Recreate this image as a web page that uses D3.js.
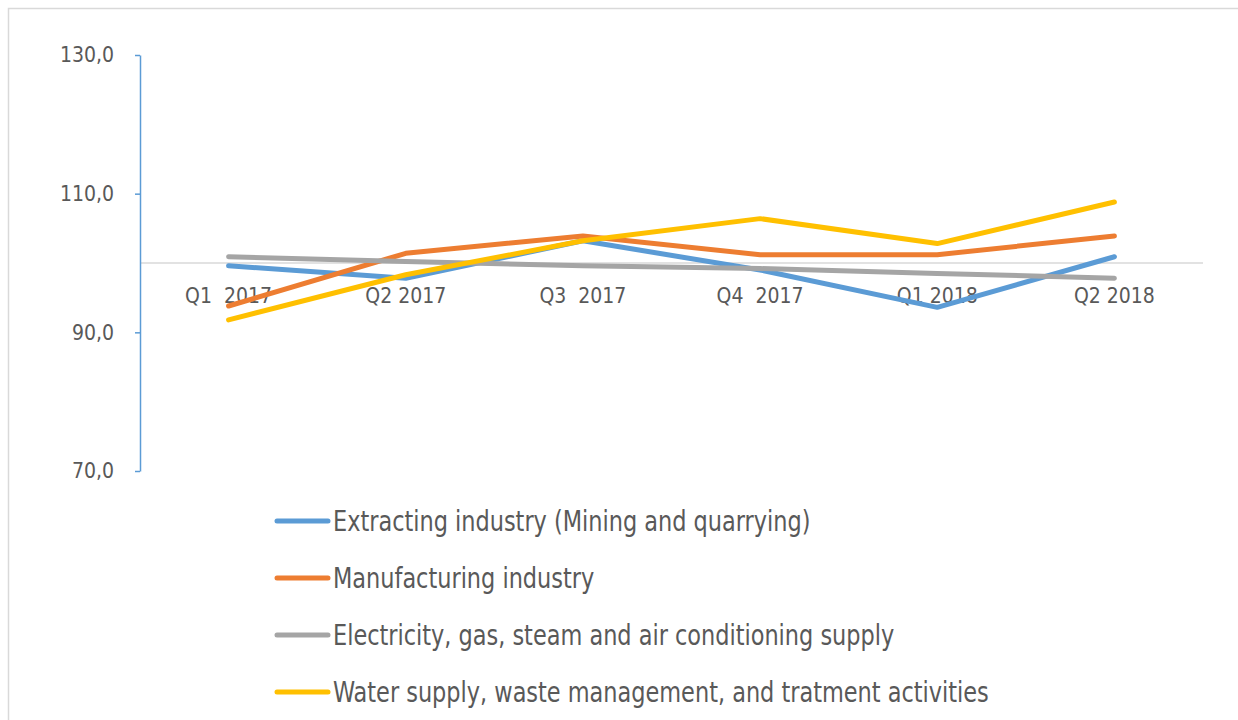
<!DOCTYPE html>
<html>
<head>
<meta charset="utf-8">
<script src="https://cdn.jsdelivr.net/npm/d3@7"></script>
<style>
  html, body { margin: 0; padding: 0; background: #fff; overflow: hidden; }
  svg { display: block; }
  svg text { font-family: 'Liberation Sans Narrow', 'DejaVu Sans Condensed', sans-serif; fill: #595959; white-space: pre; }
</style>
</head>
<body>
<div id="chart"></div>
<script>
// categories (the double spaces are in the original labels)
const categories = ['Q1  2017', 'Q2 2017', 'Q3  2017', 'Q4  2017', 'Q1 2018', 'Q2 2018'];
const yTicks = [70, 90, 110, 130];

const seriesNames = [
  'Extracting industry (Mining and quarrying)',
  'Manufacturing industry',
  'Electricity, gas, steam and air conditioning supply',
  'Water supply, waste management, and tratment activities'
];
const extracting = [99.6, 97.8, 103.2, 99.0, 93.6, 100.9];
const manufacturing = [93.8, 101.4, 103.9, 101.2, 101.2, 103.9];
const electricity = [100.9, 100.2, 99.6, 99.2, 98.5, 97.8];
const water = [91.8, 98.3, 103.2, 106.4, 102.8, 108.8];

const colors = ['#5B9BD5', '#ED7D31', '#A5A5A5', '#FFC000'];

const width = 1238;
const height = 720;
const margin = { top: 55, right: 35, bottom: 249, left: 140 };

const svg = d3.select('#chart')
  .append('svg')
  .attr('width', width)
  .attr('height', height);

// borde del área del gráfico (se sale por la derecha y abajo)
svg.append('rect')
  .attr('x', 8.5)
  .attr('y', 8.5)
  .attr('width', width + 20)
  .attr('height', height + 20)
  .attr('fill', 'none')
  .attr('stroke', '#D9D9D9')
  .attr('stroke-width', 1.5);

const x = d3.scalePoint()
  .domain(categories)
  .range([margin.left, width - margin.right])
  .padding(0.5);

const y = d3.scaleLinear()
  .domain([70, 130])
  .range([height - margin.bottom, margin.top]);

// línea horizontal en 100 (el eje X cruza aquí)
svg.append('line')
  .attr('x1', margin.left)
  .attr('x2', width - margin.right)
  .attr('y1', y(100))
  .attr('y2', y(100))
  .attr('stroke', '#D9D9D9')
  .attr('stroke-width', 1.5);

// EJE Y
const yAxis = d3.axisLeft(y)
  .tickValues(yTicks)
  .tickSize(5)
  .tickSizeOuter(0)
  .tickPadding(21)
  .tickFormat((d) => d3.format('.1f')(d).replace('.', ','));

const yAxisGroup = svg.append('g')
  .attr('transform', `translate(${margin.left},0)`)
  .call(yAxis);

yAxisGroup.select('.domain').attr('stroke', '#5B9BD5').attr('stroke-width', 1.5);
yAxisGroup.selectAll('.tick line').attr('stroke', '#5B9BD5').attr('stroke-width', 1.5);
yAxisGroup.selectAll('.tick text')
  .style('font-size', '21px')
  .style('fill', '#595959');

// etiquetas de categorías
svg.append('g')
  .selectAll('text')
  .data(categories)
  .enter()
  .append('text')
  .attr('x', (d) => x(d))
  .attr('y', y(100) + 40)
  .attr('text-anchor', 'middle')
  .style('font-size', '21px')
  .text((d) => d);

// LÍNEAS
const allSeries = [extracting, manufacturing, electricity, water];

const line = d3.line()
  .x((d, i) => x(categories[i]))
  .y((d) => y(d));

svg.append('g')
  .selectAll('path')
  .data(allSeries)
  .enter()
  .append('path')
  .attr('d', (d) => line(d))
  .attr('fill', 'none')
  .attr('stroke', (d, i) => colors[i])
  .attr('stroke-width', 5)
  .attr('stroke-linecap', 'round')
  .attr('stroke-linejoin', 'round');

// LEYENDA
const legend = svg.append('g')
  .attr('transform', 'translate(277, 521)');

legend.selectAll('g')
  .data(seriesNames)
  .enter()
  .append('g')
  .attr('transform', (_, i) => `translate(0, ${i * 57})`)
  .each(function (name, i) {
    const g = d3.select(this);

    g.append('line')
      .attr('x1', 0)
      .attr('x2', 51)
      .attr('stroke', colors[i])
      .attr('stroke-width', 5)
      .attr('stroke-linecap', 'round');

    // texto algo comprimido en horizontal, como en el original
    g.append('text')
      .attr('transform', 'translate(56, 10) scale(0.89, 1)')
      .style('font-size', '28px')
      .text(name);
  });
</script>
</body>
</html>
